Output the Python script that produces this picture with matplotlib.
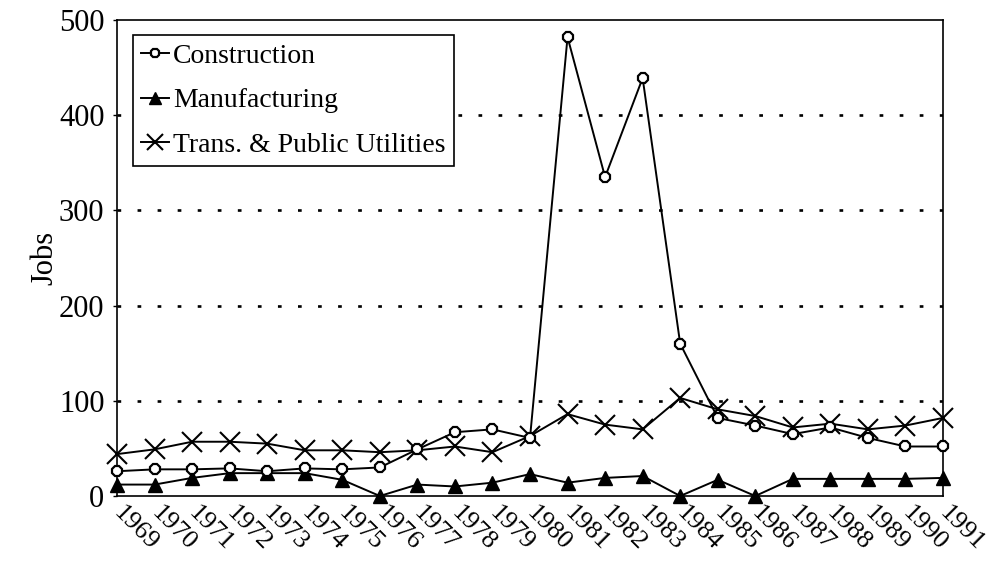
import matplotlib
matplotlib.use("Agg")
import matplotlib.pyplot as plt

years = list(range(1969, 1992))
construction = [26, 28, 28, 29, 26, 29, 28, 30, 49, 67, 70, 61, 482, 335, 439, 160, 82, 74, 65, 72, 61, 52, 52]
manufacturing = [12, 12, 19, 24, 24, 24, 17, 0, 12, 10, 14, 23, 14, 19, 21, 0, 17, 0, 18, 18, 18, 18, 19]
trans_utilities = [44, 49, 57, 57, 55, 48, 48, 46, 48, 52, 46, 63, 86, 75, 70, 103, 91, 84, 72, 76, 70, 74, 82]
series_labels = ["Construction", "Manufacturing", "Trans. & Public Utilities"]
y_ticks = [0, 100, 200, 300, 400, 500]

plt.rcParams['font.family'] = ['Liberation Serif', 'DejaVu Serif']

fig = plt.figure(figsize=(9.87, 5.66), dpi=100)
ax = fig.add_axes([117/987, (566-496)/566, (943-117)/987, (496-20)/566])

for y in y_ticks[1:-1]:
    ax.axhline(y, color='black', lw=1.9, ls=(0, (1.4, 6.2)), zorder=1)

ax.plot(years, construction, color='black', lw=1.4, marker='8', ms=8,
        mfc='white', mec='black', mew=1.6, label=series_labels[0], zorder=4, clip_on=False)
ax.plot(years, manufacturing, color='black', lw=1.4, marker='^', ms=10,
        mfc='black', mec='black', label=series_labels[1], zorder=3, clip_on=False)
ax.plot(years, trans_utilities, color='black', lw=1.4, marker='x', ms=14,
        mew=1.5, label=series_labels[2], zorder=3, clip_on=False)

ax.set_xlim(1969, 1991)
ax.set_ylim(0, 500)
ax.set_yticks(y_ticks)
ax.set_yticklabels([str(v) for v in y_ticks], fontsize=22)
ax.set_xticks(years)
ax.set_xticklabels([str(y) for y in years], fontsize=19, rotation=-45,
                   ha='left', va='center', rotation_mode='anchor')
ax.tick_params(axis='x', length=0, pad=10)
ax.tick_params(axis='y', length=3, width=1, direction='out', pad=6)
ax.set_ylabel("Jobs", fontsize=22, labelpad=0)

for s in ax.spines.values():
    s.set_linewidth(1.2)
    s.set_color('black')

leg = ax.legend(loc='upper left', bbox_to_anchor=(0.019, 0.968), borderaxespad=0,
                fontsize=20, frameon=True, fancybox=False, edgecolor='black',
                framealpha=1, handlelength=1.0, handletextpad=0.15, borderpad=0.3,
                labelspacing=0.68, markerscale=0.8)
leg.get_frame().set_linewidth(1.2)
leg.set_zorder(10)

fig.savefig("out.png", dpi=100)
